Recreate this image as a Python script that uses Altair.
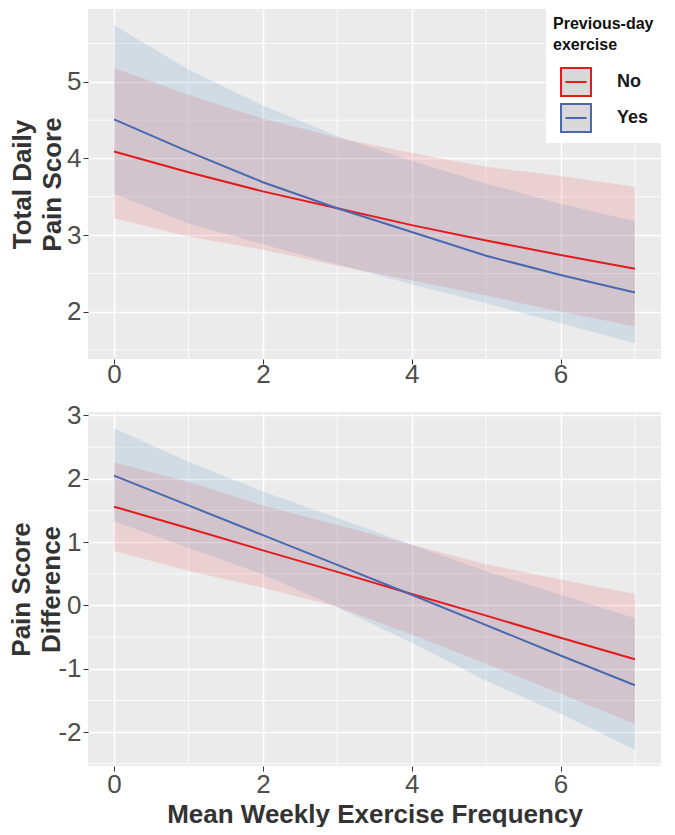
import altair as alt
import pandas as pd

# ---------------- data ----------------
x_vals = [0, 1, 2, 3, 4, 5, 6, 7]
groups = ["No", "Yes"]

# Top panel: Total Daily Pain Score
top_no_fit = [4.09, 3.82, 3.57, 3.35, 3.13, 2.93, 2.74, 2.56]
top_no_lo = [3.22, 2.98, 2.81, 2.60, 2.41, 2.21, 2.00, 1.81]
top_no_hi = [5.18, 4.83, 4.52, 4.27, 4.07, 3.89, 3.77, 3.63]
top_yes_fit = [4.51, 4.09, 3.69, 3.35, 3.04, 2.73, 2.48, 2.25]
top_yes_lo = [3.54, 3.15, 2.88, 2.62, 2.36, 2.11, 1.85, 1.59]
top_yes_hi = [5.74, 5.16, 4.69, 4.29, 3.97, 3.67, 3.41, 3.18]

# Bottom panel: Pain Score Difference
bot_no_fit = [1.56, 1.22, 0.87, 0.53, 0.18, -0.16, -0.51, -0.85]
bot_no_lo = [0.86, 0.55, 0.28, -0.02, -0.46, -0.92, -1.39, -1.87]
bot_no_hi = [2.26, 1.95, 1.58, 1.27, 0.96, 0.65, 0.41, 0.18]
bot_yes_fit = [2.05, 1.58, 1.11, 0.64, 0.17, -0.31, -0.79, -1.26]
bot_yes_lo = [1.33, 0.91, 0.49, -0.03, -0.59, -1.19, -1.71, -2.28]
bot_yes_hi = [2.80, 2.27, 1.80, 1.38, 0.96, 0.54, 0.17, -0.20]

x_ticks = [0, 2, 4, 6]
x_minor = [1, 3, 5, 7]
top_y_ticks = [2, 3, 4, 5]
top_y_minor = [1.5, 2.5, 3.5, 4.5, 5.5]
bot_y_ticks = [-2, -1, 0, 1, 2, 3]
bot_y_minor = [-2.5, -1.5, -0.5, 0.5, 1.5, 2.5]

line_colors = ["#E41A1C", "#4A68B0"]
band_no_color = "#E8343A"
band_yes_color = "#3F82BE"

FONT = "Liberation Sans"


def long_df(no_fit, no_lo, no_hi, yes_fit, yes_lo, yes_hi):
    rows = []
    for g, fit, lo, hi in (("No", no_fit, no_lo, no_hi), ("Yes", yes_fit, yes_lo, yes_hi)):
        for xv, f, l, h in zip(x_vals, fit, lo, hi):
            rows.append({"x": xv, "fit": f, "lo": l, "hi": h, "group": g})
    return pd.DataFrame(rows)


top_df = long_df(top_no_fit, top_no_lo, top_no_hi, top_yes_fit, top_yes_lo, top_yes_hi)
bot_df = long_df(bot_no_fit, bot_no_lo, bot_no_hi, bot_yes_fit, bot_yes_lo, bot_yes_hi)

legend_symbol = "M-1.07,-1H1.07V1H-1.07Z M-0.75,0H0.75"


def panel(df, ydomain, yticks, yminor, ytitle, ytitle_pad, xtitle, xlabel_pad, height, legend):
    xs = alt.Scale(domain=[-0.35, 7.35], nice=False, zero=False)
    ys = alt.Scale(domain=ydomain, nice=False, zero=False)
    xaxis = alt.Axis(values=x_ticks, title=xtitle, titlePadding=4, labelPadding=xlabel_pad,
                     labelExpr="toString(datum.value)")
    yaxis = alt.Axis(values=yticks, title=ytitle, titlePadding=ytitle_pad,
                     titleLineHeight=30, labelExpr="toString(datum.value)")

    minor_v = alt.Chart(pd.DataFrame({"x": x_minor})).mark_rule(
        color="white", strokeWidth=0.8
    ).encode(x=alt.X("x:Q", scale=xs, axis=xaxis))

    minor_h = alt.Chart(pd.DataFrame({"y": yminor})).mark_rule(
        color="white", strokeWidth=0.8
    ).encode(y=alt.Y("y:Q", scale=ys, axis=yaxis))

    band = alt.Chart(df).mark_area(opacity=0.15).encode(
        x=alt.X("x:Q", scale=xs, axis=xaxis),
        y=alt.Y("lo:Q", scale=ys, axis=yaxis),
        y2="hi:Q",
        detail="group:N",
        fill=alt.condition(alt.datum.group == "No", alt.value(band_no_color), alt.value(band_yes_color)),
    )

    line = alt.Chart(df).mark_line(strokeWidth=2).encode(
        x=alt.X("x:Q", scale=xs, axis=xaxis),
        y=alt.Y("fit:Q", scale=ys, axis=yaxis),
        color=alt.Color("group:N", scale=alt.Scale(domain=groups, range=line_colors), legend=legend),
    )

    return alt.layer(minor_v, minor_h, band, line).properties(width=573, height=height)


legend = alt.Legend(
    title=["Previous-day", "exercise"],
    orient="top-right",
    offset=0,
    fillColor="white",
    padding=7,
    titleFont=FONT,
    titleFontSize=16,
    titleFontWeight="bold",
    titleColor="#111111",
    titleLineHeight=21,
    titlePadding=14,
    labelFont=FONT,
    labelFontSize=18,
    labelFontWeight="bold",
    labelColor="#1a1a1a",
    labelOffset=26,
    symbolType=legend_symbol,
    symbolSize=784,
    symbolStrokeWidth=2,
    symbolFillColor="#D9D9D9",
    symbolOffset=8,
    rowPadding=0,
)

top = panel(top_df, [1.383, 5.95], top_y_ticks, top_y_minor,
            ["Total Daily", "Pain Score"], 1, None, -3, 350, legend)
bottom = panel(bot_df, [-2.535, 3.055], bot_y_ticks, bot_y_minor,
               ["Pain Score", "Difference"], -7, "Mean Weekly Exercise Frequency", 0, 354, None)

chart = (
    alt.vconcat(top, bottom, spacing=15)
    .resolve_scale(color="independent")
    .resolve_legend(color="independent")
    .properties(padding=0)
    .configure_view(fill="#EBEBEB", stroke=None)
    .configure_axis(
        domain=False,
        grid=True,
        gridColor="white",
        gridWidth=1.6,
        ticks=True,
        tickColor="#333333",
        tickSize=5,
        tickWidth=1,
        labelFont=FONT,
        labelFontSize=26,
        labelColor="#4D4D4D",
        labelPadding=2,
        titleFont=FONT,
        titleFontSize=26,
        titleFontWeight="bold",
        titleColor="#333333",
    )
)

chart.save("out.html", embed_options={"renderer": "svg", "actions": False})
